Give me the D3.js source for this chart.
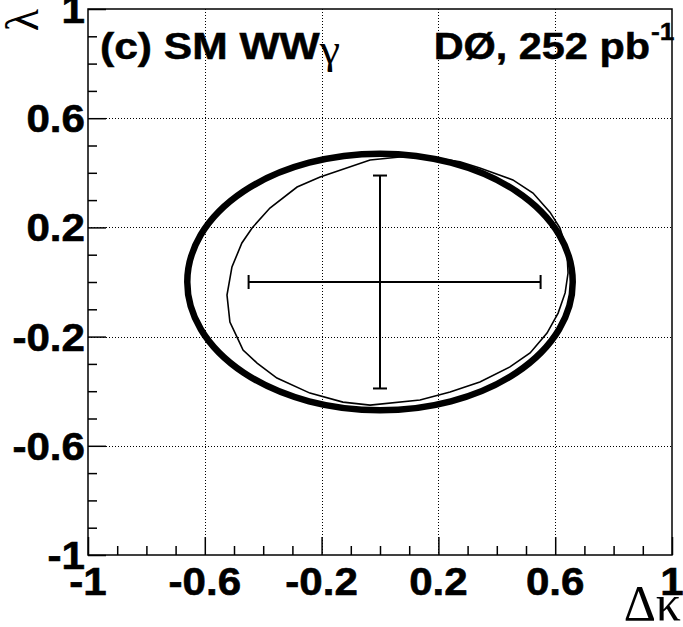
<!DOCTYPE html>
<html>
<head>
<meta charset="utf-8">
<script src="https://cdn.jsdelivr.net/npm/d3@7"></script>
<style>
  body { margin: 0; background: #fff; }
  svg { display: block; }
</style>
</head>
<body>
<svg id="chart" width="683" height="627"></svg>
<script>
// Axis ticks and labels
const majorTicks = [-1, -0.6, -0.2, 0.2, 0.6, 1];
const tickLabels = ["-1", "-0.6", "-0.2", "0.2", "0.6", "1"];
const gridValues = [-0.6, -0.2, 0.2, 0.6];
const minorTicks = [-0.9, -0.8, -0.7, -0.5, -0.4, -0.3, -0.1, 0, 0.1, 0.3, 0.4, 0.5, 0.7, 0.8, 0.9];

// 95% C.L. limit ellipse: centre (Δκ, λ) and semi-axes
const ellipseCenter = [0, 0];
const ellipseRadii = [0.66, 0.47];

// Two-dimensional contour (Δκ, λ)
const contourDk = [-0.034, 0.068, 0.171, 0.274, 0.342, 0.455, 0.524, 0.582, 0.616, 0.640, 0.644, 0.634, 0.610, 0.572, 0.514, 0.445, 0.342, 0.240, 0.137, -0.034, -0.127, -0.240, -0.353, -0.421, -0.469, -0.490, -0.514, -0.524, -0.507, -0.473, -0.438, -0.377, -0.284, -0.205];
const contourLam = [0.447, 0.458, 0.458, 0.440, 0.418, 0.374, 0.326, 0.256, 0.198, 0.117, 0.033, -0.040, -0.114, -0.187, -0.260, -0.311, -0.366, -0.403, -0.432, -0.451, -0.440, -0.407, -0.352, -0.297, -0.249, -0.201, -0.147, -0.048, 0.055, 0.143, 0.198, 0.271, 0.348, 0.385];

// One-dimensional limits around the SM point
const smPoint = [0, 0];
const dkLimits = [-0.45, 0.55];
const lamLimits = [-0.39, 0.39];

const svg = d3.select("#chart");
const frame = { left: 88, right: 672, top: 9, bottom: 555 };

const x = d3.scaleLinear().domain([-1, 1]).range([frame.left, frame.right]);
const y = d3.scaleLinear().domain([-1, 1]).range([frame.bottom, frame.top]);

const boldFont = "'Liberation Sans', Arial, Helvetica, sans-serif";
const serifFont = "'Liberation Serif', 'Times New Roman', serif";

// Places a text at (px, py) with a horizontal stretch
function stretchedText(parent, px, py, anchor, sx) {
  return parent.append("text")
    .attr("transform", `translate(${px},${py}) scale(${sx},1)`)
    .attr("text-anchor", anchor);
}

// Dotted grid at the major divisions
const grid = svg.append("g").attr("stroke", "#000").attr("stroke-width", 1).attr("stroke-dasharray", "1,2");
grid.selectAll("line.gx").data(gridValues).join("line")
  .attr("x1", d => Math.round(x(d)) + 0.5).attr("x2", d => Math.round(x(d)) + 0.5)
  .attr("y1", frame.top).attr("y2", frame.bottom);
grid.selectAll("line.gy").data(gridValues).join("line")
  .attr("y1", d => Math.round(y(d)) + 0.5).attr("y2", d => Math.round(y(d)) + 0.5)
  .attr("x1", frame.left).attr("x2", frame.right);

// Axes: major ticks with labels, minor ticks without
const xAxis = svg.append("g").attr("transform", `translate(0,${frame.bottom})`)
  .call(d3.axisTop(x).tickValues(majorTicks).tickSize(18).tickFormat(""));
const xMinor = svg.append("g").attr("transform", `translate(0,${frame.bottom})`)
  .call(d3.axisTop(x).tickValues(minorTicks).tickSize(9).tickFormat(""));
const yAxis = svg.append("g").attr("transform", `translate(${frame.left},0)`)
  .call(d3.axisRight(y).tickValues(majorTicks).tickSize(18).tickFormat(""));
const yMinor = svg.append("g").attr("transform", `translate(${frame.left},0)`)
  .call(d3.axisRight(y).tickValues(minorTicks).tickSize(9).tickFormat(""));
[xAxis, xMinor, yAxis, yMinor].forEach(g => {
  g.select(".domain").remove();
  g.selectAll("line").attr("stroke", "#000").attr("stroke-width", 1.5);
});

// Tick labels
const tickFont = 39;
majorTicks.forEach((v, i) => {
  stretchedText(svg, x(v), frame.bottom + 40, "middle", 1.08)
    .attr("font-family", boldFont).attr("font-weight", "bold").attr("font-size", tickFont)
    .attr("stroke", "#000").attr("stroke-width", 0.6)
    .text(tickLabels[i]);
  stretchedText(svg, frame.left - 3, y(v) + 14, "end", 1.08)
    .attr("font-family", boldFont).attr("font-weight", "bold").attr("font-size", tickFont)
    .attr("stroke", "#000").attr("stroke-width", 0.6)
    .text(tickLabels[i]);
});

// Frame
svg.append("rect")
  .attr("x", frame.left).attr("y", frame.top)
  .attr("width", frame.right - frame.left).attr("height", frame.bottom - frame.top)
  .attr("fill", "none").attr("stroke", "#000").attr("stroke-width", 1.5);

// Limit ellipse
svg.append("ellipse")
  .attr("cx", x(ellipseCenter[0])).attr("cy", y(ellipseCenter[1]))
  .attr("rx", x(ellipseRadii[0]) - x(0)).attr("ry", y(0) - y(ellipseRadii[1]))
  .attr("fill", "none").attr("stroke", "#000").attr("stroke-width", 6.5);

// Contour
const contour = contourDk.map((d, i) => [d, contourLam[i]]);
svg.append("path")
  .datum(contour)
  .attr("d", d3.line().x(d => x(d[0])).y(d => y(d[1])).curve(d3.curveLinearClosed))
  .attr("fill", "none").attr("stroke", "#000").attr("stroke-width", 1.6);

// Error cross at the SM point
const cross = svg.append("g").attr("stroke", "#000").attr("stroke-width", 2);
const cap = 7;
cross.append("line")
  .attr("x1", x(dkLimits[0])).attr("x2", x(dkLimits[1]))
  .attr("y1", y(smPoint[1])).attr("y2", y(smPoint[1]));
cross.selectAll("line.hc").data(dkLimits).join("line")
  .attr("x1", d => x(d)).attr("x2", d => x(d))
  .attr("y1", y(smPoint[1]) - cap).attr("y2", y(smPoint[1]) + cap);
cross.append("line")
  .attr("x1", x(smPoint[0])).attr("x2", x(smPoint[0]))
  .attr("y1", y(lamLimits[0])).attr("y2", y(lamLimits[1]));
cross.selectAll("line.vc").data(lamLimits).join("line")
  .attr("y1", d => y(d)).attr("y2", d => y(d))
  .attr("x1", x(smPoint[0]) - cap).attr("x2", x(smPoint[0]) + cap);

// Labels inside the frame
const t1 = stretchedText(svg, 100, 59, "start", 1.15)
  .attr("font-family", boldFont).attr("font-weight", "bold").attr("font-size", 37)
  .attr("stroke", "#000").attr("stroke-width", 0.5);
t1.append("tspan").text("(c) SM WW");
t1.append("tspan").attr("font-family", serifFont).attr("font-weight", "normal").attr("font-size", 40)
  .attr("stroke-width", 0).attr("dy", 4).text("γ");

stretchedText(svg, 650, 59, "end", 1.12)
  .attr("font-family", boldFont).attr("font-weight", "bold").attr("font-size", 37)
  .attr("stroke", "#000").attr("stroke-width", 0.5)
  .text("DØ, 252 pb");
stretchedText(svg, 651, 40, "start", 1.1)
  .attr("font-family", boldFont).attr("font-weight", "bold").attr("font-size", 24)
  .attr("stroke", "#000").attr("stroke-width", 0.4)
  .text("-1");

// Axis titles
svg.append("text").attr("transform", "translate(38,20) rotate(-90)")
  .attr("text-anchor", "middle")
  .attr("font-family", serifFont).attr("font-size", 46)
  .text("λ");
svg.append("text").attr("x", 681).attr("y", 620).attr("text-anchor", "end")
  .attr("font-family", serifFont).attr("font-size", 50)
  .text("Δκ");
</script>
</body>
</html>
